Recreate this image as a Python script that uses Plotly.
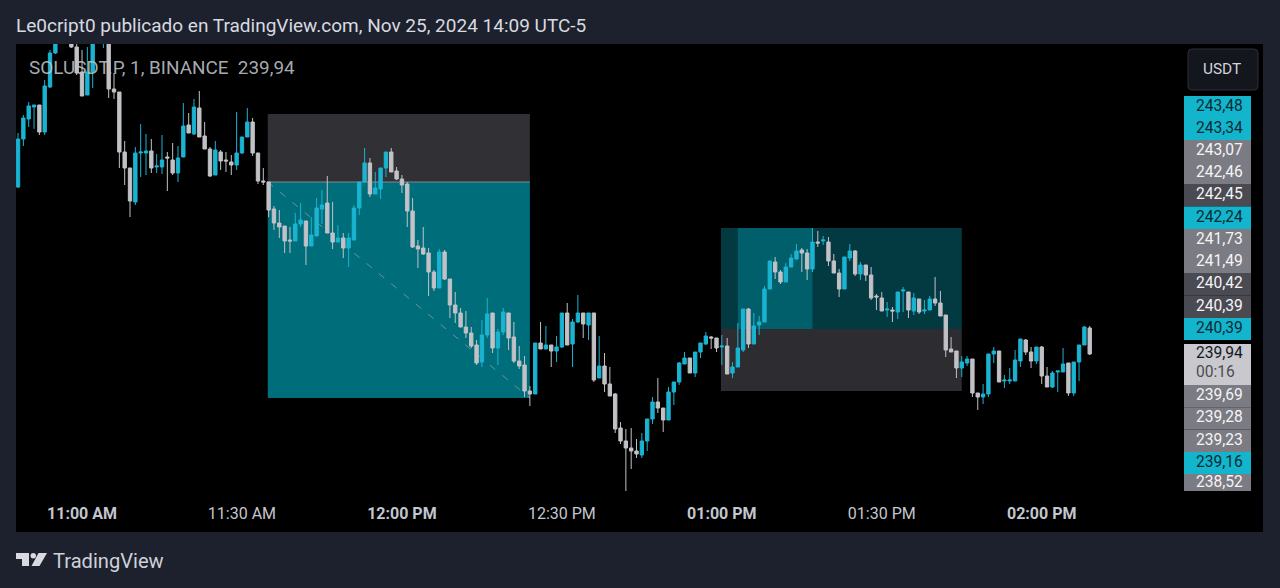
import pandas as pd
import plotly.graph_objects as go

W, H = 1280, 588
PL, PR, PT, PB = 16, 1263, 44, 491

START = "2024-11-25 10:48:00"

open_ = [241.61,242.09,242.29,242.41,242.43,242.16,242.61,242.95,243.13,243.26,
243.18,243.01,242.76,242.53,242.76,243.18,243.10,243.18,242.59,242.56,
241.96,241.80,241.46,241.95,241.95,241.97,241.81,241.81,241.91,241.88,
241.75,241.91,242.23,242.14,242.40,242.12,241.99,241.73,241.96,241.88,
241.86,241.83,241.95,242.11,242.26,241.95,241.67,241.66,241.39,241.25,
241.22,241.08,241.07,241.24,241.27,241.02,241.12,241.39,241.45,241.15,
241.06,241.10,241.00,241.08,241.40,241.66,241.85,241.54,241.59,241.80,
241.96,241.77,241.69,241.64,241.37,241.02,241.00,240.95,240.76,240.60,
240.96,240.69,240.43,240.35,240.21,240.15,240.03,239.86,240.13,240.35,
240.00,240.16,240.35,240.11,239.87,239.83,239.57,239.54,240.05,239.99,
240.03,239.97,240.01,240.35,240.04,240.26,240.35,240.23,240.35,239.70,
239.82,239.64,239.54,239.20,239.07,239.00,238.97,238.93,239.07,239.29,
239.46,239.40,239.28,239.56,239.66,239.84,239.90,239.75,239.96,240.04,
240.11,240.10,240.01,240.02,239.75,239.81,239.98,240.39,240.04,240.23,
240.26,240.59,240.86,240.76,240.66,240.81,240.89,240.98,240.95,240.79,
241.06,241.07,241.06,240.87,240.75,240.59,240.90,240.97,240.74,240.83,
240.73,240.52,240.50,240.38,240.38,240.36,240.57,240.56,240.37,240.49,
240.37,240.38,240.49,240.45,240.33,239.99,239.97,239.80,239.85,239.89,
239.55,239.51,239.54,239.94,239.97,239.67,239.67,239.67,239.87,240.08,
239.96,239.87,240.01,239.72,239.61,239.76,239.76,239.85,239.55,239.86,
240.03,240.20]

high = [242.15,242.33,242.46,242.43,242.43,242.68,242.98,243.20,243.28,243.30,
243.23,243.08,242.98,243.01,243.23,243.33,243.28,243.23,242.75,242.56,
242.07,241.80,242.01,242.24,242.14,242.09,241.94,242.13,241.96,242.05,
242.02,242.45,242.35,242.49,242.57,242.26,242.01,242.07,241.98,241.96,
241.93,242.36,242.11,242.40,242.30,241.95,241.80,241.66,241.42,241.38,
241.22,241.21,241.35,241.45,241.27,241.31,241.50,241.58,241.72,241.46,
241.23,241.15,241.15,241.43,241.66,242.00,241.90,241.76,241.80,241.96,
242.00,241.81,241.73,241.66,241.50,241.08,241.21,241.00,240.78,240.99,
240.98,240.69,240.56,240.40,240.37,240.21,240.08,240.28,240.50,240.35,
240.19,240.40,240.35,240.26,240.02,239.92,239.62,240.05,240.26,240.22,
240.03,240.12,240.35,240.45,240.29,240.53,240.35,240.35,240.35,240.12,
239.95,239.81,239.55,239.26,239.19,239.20,239.09,239.15,239.29,239.51,
239.70,239.40,239.61,239.66,239.86,239.96,239.90,239.96,240.05,240.16,
240.12,240.10,240.13,240.10,239.86,240.25,240.39,240.40,240.35,240.32,
240.62,240.87,240.91,240.78,240.85,240.94,241.04,241.00,240.99,241.20,
241.17,241.12,241.11,240.94,240.79,240.91,241.04,240.98,240.86,240.83,
240.81,240.54,240.56,240.46,240.41,240.56,240.61,240.56,240.55,240.49,
240.48,240.52,240.71,240.57,240.33,240.11,239.97,239.92,239.92,239.89,
239.55,239.64,239.94,240.01,239.97,239.73,239.80,239.98,240.09,240.09,
240.01,240.01,240.02,239.81,239.77,239.77,240.00,239.85,239.86,240.03,
240.22,240.22]

low = [241.60,242.02,242.21,242.19,242.13,242.13,242.60,242.94,243.08,243.08,
243.00,242.73,242.52,242.53,242.60,243.10,243.00,242.50,242.49,241.80,
241.63,241.31,241.43,241.71,241.73,241.75,241.75,241.74,241.57,241.73,
241.66,241.91,242.15,242.13,242.11,241.99,241.71,241.73,241.78,241.76,
241.73,241.78,241.94,242.11,241.92,241.64,241.63,241.31,241.18,241.10,
240.95,240.95,241.07,241.21,240.83,241.02,241.12,241.24,241.15,240.99,
241.06,240.90,240.81,241.08,241.33,241.66,241.51,241.54,241.49,241.71,
241.76,241.68,241.55,241.21,241.00,240.80,240.93,240.52,240.57,240.60,
240.68,240.30,240.25,240.21,240.10,240.00,239.83,239.81,240.10,239.95,
239.83,240.13,239.98,239.85,239.79,239.51,239.42,239.54,239.99,239.99,
239.81,239.86,240.00,240.03,239.81,240.25,240.10,240.08,239.66,239.70,
239.56,239.52,239.15,239.04,238.56,238.79,238.90,238.90,238.97,239.24,
239.35,239.16,239.28,239.43,239.63,239.84,239.75,239.71,239.90,240.03,
239.99,239.96,239.83,239.74,239.70,239.81,239.96,240.00,240.04,240.13,
240.26,240.59,240.69,240.64,240.66,240.81,240.88,240.76,240.68,240.76,
241.01,241.03,240.82,240.75,240.51,240.59,240.87,240.72,240.68,240.67,
240.48,240.38,240.37,240.31,240.26,240.29,240.36,240.30,240.33,240.34,
240.34,240.38,240.42,240.32,239.91,239.96,239.70,239.71,239.82,239.51,
239.38,239.44,239.51,239.85,239.66,239.60,239.64,239.67,239.81,239.93,
239.80,239.84,239.64,239.61,239.60,239.56,239.76,239.52,239.52,239.67,
240.03,239.93]

close = [242.09,242.30,242.42,242.43,242.16,242.62,242.95,243.13,243.23,243.12,
243.01,242.75,242.52,242.76,243.18,243.28,243.23,242.59,242.56,241.96,
241.80,241.47,241.95,241.96,241.97,241.80,241.82,241.88,241.90,241.75,
241.90,242.22,242.15,242.41,242.11,241.99,241.72,241.98,241.87,241.87,
241.83,241.95,242.11,242.26,241.95,241.67,241.66,241.38,241.25,241.21,
241.07,241.07,241.24,241.28,241.02,241.13,241.40,241.43,241.15,241.06,
241.10,241.00,241.10,241.40,241.66,241.85,241.54,241.60,241.80,241.96,
241.76,241.69,241.63,241.37,241.01,240.99,240.94,240.76,240.60,240.96,
240.69,240.43,240.35,240.21,240.15,240.02,239.85,240.13,240.34,240.00,
240.16,240.36,240.10,239.87,239.82,239.57,239.54,240.05,239.99,240.03,
239.97,240.01,240.35,240.03,240.26,240.35,240.24,240.35,239.68,239.82,
239.64,239.52,239.19,239.07,239.00,238.97,238.94,239.07,239.29,239.46,
239.40,239.28,239.56,239.66,239.85,239.90,239.75,239.96,240.05,240.12,
240.10,240.00,240.02,239.74,239.81,240.00,240.39,240.04,240.22,240.26,
240.59,240.87,240.76,240.66,240.81,240.90,240.97,240.95,240.79,241.06,
241.05,241.08,240.87,240.75,240.59,240.91,240.97,240.74,240.83,240.73,
240.50,240.51,240.37,240.39,240.37,240.56,240.58,240.38,240.50,240.36,
240.38,240.49,240.45,240.32,239.98,239.96,239.80,239.86,239.89,239.55,
239.51,239.54,239.94,239.97,239.66,239.68,239.68,239.88,240.09,239.96,
239.87,240.01,239.72,239.61,239.75,239.77,239.84,239.55,239.86,240.03,
240.21,239.94]

times = pd.date_range(START, periods=len(close), freq="min")

tick_vals = ["2024-11-25 11:00","2024-11-25 11:30","2024-11-25 12:00","2024-11-25 12:30",
             "2024-11-25 13:00","2024-11-25 13:30","2024-11-25 14:00"]
tick_text = ["<b>11:00 AM</b>","11:30 AM","<b>12:00 PM</b>","12:30 PM",
             "<b>01:00 PM</b>","01:30 PM","<b>02:00 PM</b>"]

x_range = ["2024-11-25 10:47:37","2024-11-25 14:41:30"]
y_range = [238.57, 243.04]

# Position boxes (time, price)
short_x = ["2024-11-25 11:34:50","2024-11-25 12:24"]
short_entry, short_stop, short_target = 241.66, 242.34, 239.50
long_x = ["2024-11-25 12:59:50","2024-11-25 13:45"]
long_inner_x = ["2024-11-25 13:03","2024-11-25 13:17"]
long_entry, long_target, long_stop = 240.19, 241.20, 239.57

# Price scale labels: text, fill, text colour, height
price_labels = [
    ("243,48","#12b5cb","#0c2a35",22),("243,34","#12b5cb","#0c2a35",22),
    ("243,07","#7b7b83","#f4f4f6",22),("242,46","#7b7b83","#f4f4f6",22),
    ("242,45","#4a4a52","#f4f4f6",22.5),("242,24","#12b5cb","#0c2a35",22.5),
    ("241,73","#7b7b83","#f4f4f6",22),("241,49","#7b7b83","#f4f4f6",22),
    ("240,42","#4a4a52","#f4f4f6",22.5),("240,39","#4a4a52","#f4f4f6",22.5),
    ("240,39","#12b5cb","#0c2a35",22),
]
price_labels_low = [
    ("239,69","#7b7b83","#f4f4f6",22.3),("239,28","#7b7b83","#f4f4f6",22.3),
    ("239,23","#7b7b83","#f4f4f6",22.4),("239,16","#12b5cb","#0c2a35",22),
    ("238,52","#7b7b83","#f4f4f6",17),
]
last_price, countdown = "239,94", "00:16"

TEAL, GRAY = "#1ab4d2", "#c2c2c6"
BG = "#1d212d"

def px(x): return (x - PL) / (PR - PL)
def py(y): return (PB - y) / (PB - PT)

fig = go.Figure(go.Candlestick(
    x=times, open=open_, high=high, low=low, close=close,
    increasing=dict(line=dict(color=TEAL, width=1), fillcolor=TEAL),
    decreasing=dict(line=dict(color=GRAY, width=1), fillcolor=GRAY),
    whiskerwidth=0, hoverinfo="skip", showlegend=False,
))

shapes = [
    dict(type="rect", xref="paper", yref="paper", x0=0, x1=1, y0=py(532), y1=0,
         fillcolor="#000000", line_width=0, layer="below"),
    dict(type="rect", x0=short_x[0], x1=short_x[1], y0=short_entry, y1=short_stop,
         fillcolor="#303035", line_width=0, layer="below"),
    dict(type="rect", x0=short_x[0], x1=short_x[1], y0=short_target, y1=short_entry,
         fillcolor="#006d7b", line_width=0, layer="below"),
    dict(type="line", x0=short_x[0], x1=short_x[1], y0=short_entry, y1=short_entry,
         line=dict(color="#7f8c90", width=1), layer="below"),
    dict(type="line", x0=short_x[0], x1=short_x[1], y0=short_entry, y1=short_target,
         line=dict(color="#6f9299", width=1, dash="7px,9px"), layer="below"),
    dict(type="rect", x0=long_x[0], x1=long_x[1], y0=long_entry, y1=long_target,
         fillcolor="#033a41", line_width=0, layer="below"),
    dict(type="rect", x0=long_inner_x[0], x1=long_inner_x[1], y0=long_entry, y1=long_target,
         fillcolor="#015f6b", line_width=0, layer="below"),
    dict(type="rect", x0=long_x[0], x1=long_x[1], y0=long_stop, y1=long_entry,
         fillcolor="#2c2c31", line_width=0, layer="below"),
    # USDT button
    dict(type="path", xref="paper", yref="paper", layer="above",
         path=f"M{px(1192)},{py(49)} L{px(1254)},{py(49)} Q{px(1258)},{py(49)} {px(1258)},{py(53)} "
              f"L{px(1258)},{py(86)} Q{px(1258)},{py(90)} {px(1254)},{py(90)} L{px(1192)},{py(90)} "
              f"Q{px(1188)},{py(90)} {px(1188)},{py(86)} L{px(1188)},{py(53)} Q{px(1188)},{py(49)} {px(1192)},{py(49)} Z",
         fillcolor="#14161d", line=dict(color="#2b2f3a", width=1)),
    # TradingView logo
    dict(type="path", xref="paper", yref="paper", layer="above",
         path=f"M{px(16)},{py(553)} L{px(29)},{py(553)} L{px(29)},{py(566)} L{px(22)},{py(566)} "
              f"L{px(22)},{py(559)} L{px(16)},{py(559)} Z",
         fillcolor="#d8dae0", line_width=0),
    dict(type="circle", xref="paper", yref="paper", layer="above",
         x0=px(30.5), x1=px(36), y0=py(558.5), y1=py(553), fillcolor="#d8dae0", line_width=0),
    dict(type="path", xref="paper", yref="paper", layer="above",
         path=f"M{px(38.5)},{py(553)} L{px(47)},{py(553)} L{px(39.5)},{py(566)} L{px(31.5)},{py(566)} Z",
         fillcolor="#d8dae0", line_width=0),
]

annotations = []
def note(x, y, text, size, color, anchor="left", family="Roboto"):
    annotations.append(dict(xref="paper", yref="paper", x=px(x), y=py(y), text=text,
                            showarrow=False, xanchor=anchor, yanchor="middle",
                            font=dict(family=family, size=size, color=color)))

def stack(rows, y):
    for text, fill, col, h in rows:
        shapes.append(dict(type="rect", xref="paper", yref="paper", layer="above",
                           x0=px(1184), x1=px(1251), y0=py(y + h), y1=py(y),
                           fillcolor=fill, line_width=0))
        note(1219.5, y + min(h, 22) / 2 - 1, text, 15.6, col, "center")
        y += h

stack(price_labels, 96)
shapes.append(dict(type="rect", xref="paper", yref="paper", layer="above",
                   x0=px(1184), x1=px(1251), y0=py(385), y1=py(344),
                   fillcolor="#c8c8cd", line_width=0))
note(1219.5, 353, last_price, 15.6, "#131722", "center")
note(1215, 371.5, countdown, 15.6, "#4b4d55", "center")
stack(price_labels_low, 385)

note(1222, 68.5, "USDT", 15.4, "#d1d4dc", "center")
note(14, 25, "Le0cript0 publicado en TradingView.com, Nov 25, 2024 14:09 UTC-5", 19, "#d8dae0")
note(27, 67, "SOLUSDT.P, 1, BINANCE&nbsp;&nbsp;239,94", 18.9, "rgba(190,193,200,0.9)")
note(51, 560.5, "TradingView", 20.1, "#cfd2da")

fig.update_layout(
    width=W, height=H, autosize=False,
    margin=dict(l=PL, r=W - PR, t=PT, b=H - PB, pad=0),
    paper_bgcolor=BG, plot_bgcolor="#000000",
    shapes=shapes, annotations=annotations,
    boxgap=0.1, showlegend=False, hovermode=False,
    xaxis=dict(type="date", range=x_range, rangeslider=dict(visible=False),
               showgrid=False, zeroline=False, showline=False,
               tickmode="array", tickvals=tick_vals, ticktext=tick_text,
               ticks="outside", ticklen=8, tickcolor="rgba(0,0,0,0)",
               tickfont=dict(family="Roboto", size=16, color="#c3c6ce")),
    yaxis=dict(range=y_range, showgrid=False, zeroline=False, showline=False,
               showticklabels=False, ticks=""),
)

fig.write_html("out.html", config=dict(displayModeBar=False),
               post_script="document.body.style.margin='0';document.body.style.overflow='hidden';")
